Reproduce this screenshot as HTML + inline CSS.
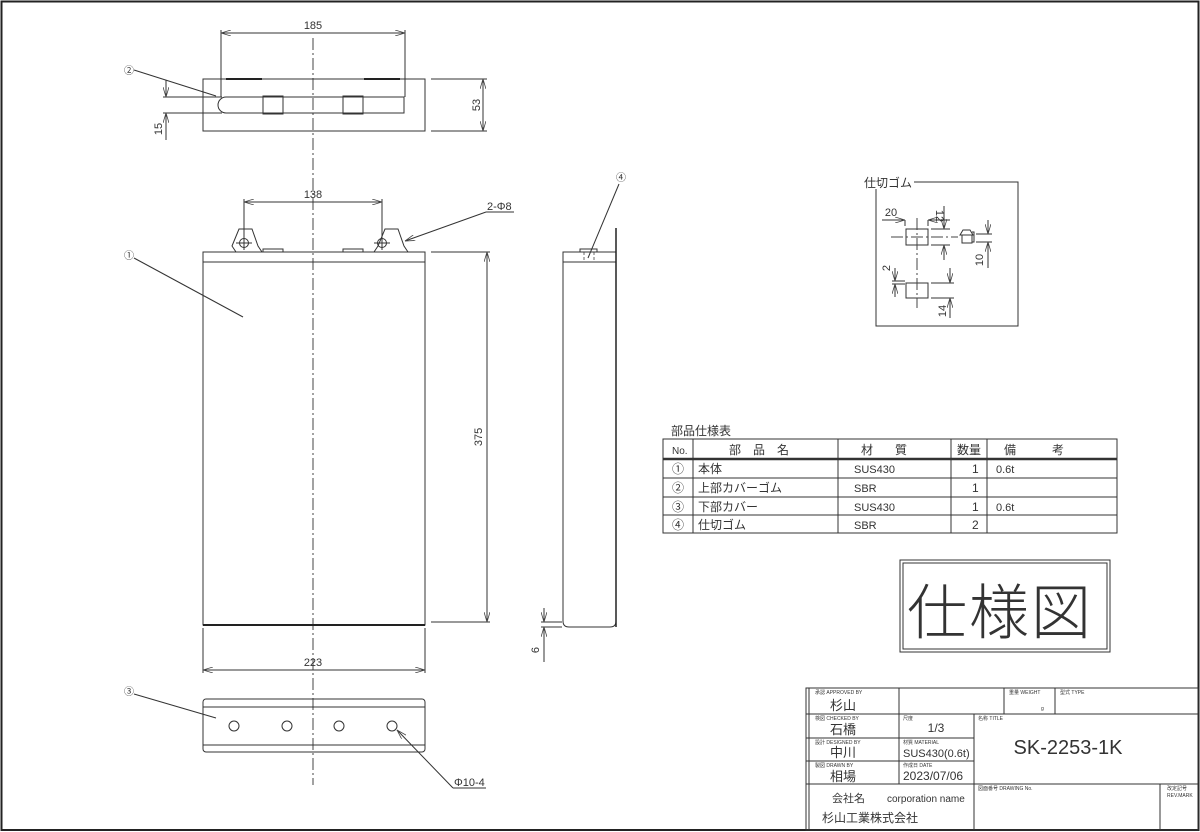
<!DOCTYPE html>
<html><head><meta charset="utf-8"><style>
html,body{margin:0;padding:0;background:#fff}
svg{display:block}
text{font-family:"Liberation Sans","Noto Sans CJK JP",sans-serif;fill:#333}
.l{stroke:#333;stroke-width:1;fill:none}
.t{stroke:#222;stroke-width:1.4;fill:none}
.c{stroke:#444;stroke-width:1;fill:none;stroke-dasharray:12 3 2 3}
.d{stroke:#444;stroke-width:0.8;fill:none;stroke-dasharray:3 2}
.n{font-family:"Liberation Sans Narrow","Liberation Sans",sans-serif}
</style></head><body>
<svg width="1200" height="832" viewBox="0 0 1200 832" xmlns="http://www.w3.org/2000/svg">
<defs>
<marker id="a" viewBox="0 0 10 6" refX="10" refY="3" markerWidth="10" markerHeight="6" orient="auto-start-reverse" markerUnits="userSpaceOnUse"><path d="M0,0 L10,3 L0,6" fill="none" stroke="#444" stroke-width="0.8"/></marker>
</defs>
<rect x="1.5" y="1.5" width="1197" height="828.5" fill="none" stroke="#222" stroke-width="2"/>

<!-- centerline -->
<line class="c" x1="313" y1="38" x2="313" y2="785"/>

<!-- top view -->
<rect class="l" x="203" y="79" width="222" height="52"/>
<line x1="226" y1="79" x2="262" y2="79" stroke="#222" stroke-width="2"/>
<line x1="364" y1="79" x2="400" y2="79" stroke="#222" stroke-width="2"/>
<path class="l" d="M226,97 L404,97 L404,113 L226,113 A8,8 0 0 1 226,97 Z"/>
<rect class="l" x="263" y="96" width="20" height="18"/>
<rect class="l" x="343" y="96" width="20" height="18"/>
<line class="l" x1="221" y1="30" x2="221" y2="97"/>
<line class="l" x1="405" y1="30" x2="405" y2="97"/>
<line class="l" x1="221" y1="33" x2="405" y2="33" marker-start="url(#a)" marker-end="url(#a)"/>
<text class="n" x="313" y="29" font-size="11" text-anchor="middle">185</text>
<line class="l" x1="431" y1="79" x2="487" y2="79"/>
<line class="l" x1="431" y1="131" x2="487" y2="131"/>
<line class="l" x1="483" y1="79" x2="483" y2="131" marker-start="url(#a)" marker-end="url(#a)"/>
<text class="n" x="0" y="0" font-size="11" text-anchor="middle" transform="translate(480,105) rotate(-90)">53</text>
<line class="l" x1="163" y1="97" x2="222" y2="97"/>
<line class="l" x1="163" y1="113" x2="222" y2="113"/>
<line class="l" x1="166" y1="80" x2="166" y2="97" marker-end="url(#a)"/>
<line class="l" x1="166" y1="140" x2="166" y2="113" marker-end="url(#a)"/>
<text class="n" x="0" y="0" font-size="11" text-anchor="middle" transform="translate(162,129) rotate(-90)">15</text>
<text x="129" y="74" font-size="10" text-anchor="middle">②</text>
<line class="l" x1="134" y1="70" x2="216" y2="96" stroke-width="0.8"/>

<!-- front view -->
<path class="l" d="M236,252 L232,246 L239,229 L252,229 L258,246 L262,252"/>
<path class="l" d="M374,252 L378,246 L385,229 L398,229 L404,246 L408,252"/>
<circle class="l" cx="244" cy="243" r="4.5"/><line class="l" x1="236" y1="243" x2="252" y2="243"/><line class="l" x1="244" y1="236" x2="244" y2="250"/>
<circle class="l" cx="382" cy="243" r="4.5"/><line class="l" x1="374" y1="243" x2="390" y2="243"/><line class="l" x1="382" y1="236" x2="382" y2="250"/>
<rect class="l" x="263" y="249" width="20" height="3"/>
<rect class="l" x="343" y="249" width="20" height="3"/>
<rect class="l" x="203" y="252" width="222" height="373"/>
<line class="l" x1="203" y1="262" x2="425" y2="262"/>
<line x1="203" y1="625" x2="425" y2="625" stroke="#222" stroke-width="2"/>
<line class="l" x1="244" y1="199" x2="244" y2="242"/>
<line class="l" x1="382" y1="199" x2="382" y2="242"/>
<line class="l" x1="244" y1="202" x2="382" y2="202" marker-start="url(#a)" marker-end="url(#a)"/>
<text class="n" x="313" y="198" font-size="11" text-anchor="middle">138</text>
<text class="n" x="487" y="210" font-size="11">2-Φ8</text>
<line class="l" x1="486" y1="212" x2="514" y2="212" stroke-width="0.8"/>
<line class="l" x1="486" y1="212" x2="405" y2="241" marker-end="url(#a)" stroke-width="0.8"/>
<line class="l" x1="431" y1="252" x2="490" y2="252"/>
<line class="l" x1="431" y1="622" x2="490" y2="622"/>
<line class="l" x1="487" y1="252" x2="487" y2="622" marker-start="url(#a)" marker-end="url(#a)"/>
<text class="n" x="0" y="0" font-size="11" text-anchor="middle" transform="translate(482,437) rotate(-90)">375</text>
<text x="129" y="259" font-size="10" text-anchor="middle">①</text>
<line class="l" x1="134" y1="258" x2="243" y2="317" stroke-width="0.8"/>
<line class="l" x1="203" y1="628" x2="203" y2="673"/>
<line class="l" x1="425" y1="628" x2="425" y2="673"/>
<line class="l" x1="203" y1="670" x2="425" y2="670" marker-start="url(#a)" marker-end="url(#a)"/>
<text class="n" x="313" y="666" font-size="11" text-anchor="middle">223</text>

<!-- bottom view -->
<rect class="l" x="203" y="699" width="222" height="53" rx="3" stroke-width="1.3"/>
<line class="l" x1="203" y1="707" x2="425" y2="707"/>
<line class="l" x1="203" y1="745" x2="425" y2="745"/>
<circle class="l" cx="234" cy="726" r="5"/>
<circle class="l" cx="287" cy="726" r="5"/>
<circle class="l" cx="339" cy="726" r="5"/>
<circle class="l" cx="392" cy="726" r="5"/>
<text x="129" y="695" font-size="10" text-anchor="middle">③</text>
<line class="l" x1="134" y1="694" x2="216" y2="718" stroke-width="0.8"/>
<text class="n" x="454" y="786" font-size="11">Φ10-4</text>
<line class="l" x1="453" y1="788" x2="486" y2="788" stroke-width="0.8"/>
<line class="l" x1="453" y1="788" x2="397" y2="730" marker-end="url(#a)" stroke-width="0.8"/>

<!-- side view -->
<path class="l" d="M563,252 L563,621 Q563,627 569,627 L610,627 Q616,627 616,621 L616,252 Z"/>
<line class="l" x1="563" y1="262" x2="616" y2="262"/>
<line x1="616" y1="228" x2="616" y2="627" stroke="#222" stroke-width="1.5"/>
<rect class="l" x="580" y="249" width="17" height="3"/>
<line class="d" x1="584" y1="252" x2="584" y2="262"/><line class="d" x1="594" y1="252" x2="594" y2="262"/>
<text x="621" y="181" font-size="10" text-anchor="middle">④</text>
<line class="l" x1="619" y1="184" x2="588" y2="258" stroke-width="0.8"/>
<line class="l" x1="541" y1="622" x2="562" y2="622"/>
<line class="l" x1="541" y1="627" x2="562" y2="627"/>
<line class="l" x1="544" y1="608" x2="544" y2="622" marker-end="url(#a)"/>
<line class="l" x1="544" y1="662" x2="544" y2="627" marker-end="url(#a)"/>
<text class="n" x="0" y="0" font-size="11" text-anchor="middle" transform="translate(539,650) rotate(-90)">6</text>

<!-- partition rubber box -->
<rect class="l" x="876" y="182" width="142" height="144"/>
<rect x="862" y="175" width="68" height="14" fill="#fff"/>
<text x="864" y="187" font-size="12">仕切ゴム</text>
<line class="l" x1="914" y1="182" x2="930" y2="182"/>
<rect class="l" x="906" y="229" width="22" height="16"/>
<rect class="l" x="906" y="283" width="22" height="15"/>
<line class="c" x1="891" y1="237" x2="958" y2="237"/>
<line class="c" x1="917" y1="218" x2="917" y2="308"/>
<line class="l" x1="905" y1="220" x2="905" y2="226"/><line class="l" x1="928" y1="220" x2="928" y2="226"/>
<line class="l" x1="882" y1="220" x2="905" y2="220" marker-end="url(#a)"/>
<line class="l" x1="950" y1="220" x2="928" y2="220" marker-end="url(#a)"/>
<text class="n" x="891" y="216" font-size="11" text-anchor="middle">20</text>
<line class="l" x1="931" y1="229" x2="950" y2="229"/><line class="l" x1="931" y1="245" x2="950" y2="245"/>
<line class="l" x1="944" y1="206" x2="944" y2="229" marker-end="url(#a)"/>
<line class="l" x1="944" y1="260" x2="944" y2="245" marker-end="url(#a)"/>
<text class="n" x="0" y="0" font-size="11" text-anchor="middle" transform="translate(936,216) rotate(90)">12</text>
<path class="l" d="M960,235 L963,230 L970,230 L973,235 Z M972,232 L974,232 L974,242 L972,242 M962,235 L962,243 L972,243 L972,235"/>
<line class="l" x1="976" y1="234" x2="992" y2="234"/><line class="l" x1="976" y1="242" x2="992" y2="242"/>
<line class="l" x1="988" y1="220" x2="988" y2="234" marker-end="url(#a)"/>
<line class="l" x1="988" y1="268" x2="988" y2="242" marker-end="url(#a)"/>
<text class="n" x="0" y="0" font-size="11" text-anchor="middle" transform="translate(983,260) rotate(-90)">10</text>
<line class="l" x1="892" y1="281" x2="905" y2="281"/><line class="l" x1="892" y1="284" x2="905" y2="284"/>
<line class="l" x1="895" y1="268" x2="895" y2="281" marker-end="url(#a)"/>
<line class="l" x1="895" y1="297" x2="895" y2="284" marker-end="url(#a)"/>
<text class="n" x="0" y="0" font-size="11" text-anchor="middle" transform="translate(890,268) rotate(-90)">2</text>
<line class="l" x1="931" y1="283" x2="954" y2="283"/><line class="l" x1="931" y1="298" x2="954" y2="298"/>
<line class="l" x1="950" y1="268" x2="950" y2="283" marker-end="url(#a)"/>
<line class="l" x1="950" y1="318" x2="950" y2="298" marker-end="url(#a)"/>
<text class="n" x="0" y="0" font-size="11" text-anchor="middle" transform="translate(946,311) rotate(-90)">14</text>

<!-- parts table -->
<text x="671" y="435" font-size="12">部品仕様表</text>
<rect class="l" x="663" y="439" width="454" height="94" stroke-width="1.2"/>
<line x1="663" y1="459" x2="1117" y2="459" stroke="#333" stroke-width="2.5"/>
<line class="l" x1="663" y1="478" x2="1117" y2="478"/>
<line class="l" x1="663" y1="497" x2="1117" y2="497"/>
<line class="l" x1="663" y1="515" x2="1117" y2="515"/>
<line class="l" x1="693" y1="439" x2="693" y2="533"/>
<line class="l" x1="838" y1="439" x2="838" y2="533"/>
<line class="l" x1="951" y1="439" x2="951" y2="533"/>
<line class="l" x1="987" y1="439" x2="987" y2="533"/>
<g font-size="12">
<text class="n" x="672" y="454" font-size="10">No.</text>
<text x="765" y="454" text-anchor="middle" letter-spacing="12">部品名</text>
<text x="895" y="454" text-anchor="middle" letter-spacing="22">材質</text>
<text x="969" y="454" text-anchor="middle">数量</text>
<text x="1052" y="454" text-anchor="middle" letter-spacing="36">備考</text>
<text x="678" y="473" text-anchor="middle">①</text><text x="698" y="473">本体</text><text class="n" x="854" y="473" font-size="11">SUS430</text><text x="972" y="473">1</text><text class="n" x="996" y="473" font-size="11">0.6t</text>
<text x="678" y="492" text-anchor="middle">②</text><text x="698" y="492">上部カバーゴム</text><text class="n" x="854" y="492" font-size="11">SBR</text><text x="972" y="492">1</text>
<text x="678" y="511" text-anchor="middle">③</text><text x="698" y="511">下部カバー</text><text class="n" x="854" y="511" font-size="11">SUS430</text><text x="972" y="511">1</text><text class="n" x="996" y="511" font-size="11">0.6t</text>
<text x="678" y="529" text-anchor="middle">④</text><text x="698" y="529">仕切ゴム</text><text class="n" x="854" y="529" font-size="11">SBR</text><text x="972" y="529">2</text>
</g>

<!-- 仕様図 -->
<rect class="l" x="900" y="560" width="210" height="92"/>
<rect class="l" x="903" y="563" width="204" height="86"/>
<text x="1000" y="634" font-size="60" text-anchor="middle" fill="#8a8a8a" letter-spacing="2" font-weight="300">仕様図</text>

<!-- title block -->
<rect class="l" x="806" y="688" width="392" height="142" stroke-width="1.5"/>
<line class="l" x1="806" y1="714" x2="1198" y2="714"/>
<line class="l" x1="806" y1="738" x2="974" y2="738"/>
<line class="l" x1="806" y1="761" x2="974" y2="761"/>
<line class="l" x1="806" y1="784" x2="1198" y2="784"/>
<line class="l" x1="809" y1="688" x2="809" y2="830"/>
<line class="l" x1="899" y1="688" x2="899" y2="784"/>
<line class="l" x1="974" y1="714" x2="974" y2="830"/>
<line class="l" x1="1004" y1="688" x2="1004" y2="714"/>
<line class="l" x1="1055" y1="688" x2="1055" y2="714"/>
<line class="l" x1="1160" y1="784" x2="1160" y2="830"/>
<g font-size="5">
<text x="815" y="694">承認  APPROVED BY</text>
<text x="815" y="720">検図  CHECKED BY</text>
<text x="815" y="744">設計  DESIGNED BY</text>
<text x="815" y="767">製図  DRAWN BY</text>
<text x="903" y="720">尺度</text>
<text x="903" y="744">材質  MATERIAL</text>
<text x="903" y="767">作成日  DATE</text>
<text x="978" y="720">名称  TITLE</text>
<text x="1009" y="694">重量  WEIGHT</text>
<text x="1041" y="710">g</text>
<text x="1060" y="694">型式  TYPE</text>
<text x="978" y="790">図面番号        DRAWING No.</text>
<text x="1167" y="790">改定記号</text>
<text x="1167" y="797">REV.MARK</text>
</g>
<g font-size="13">
<text x="830" y="710">杉山</text>
<text x="830" y="734">石橋</text>
<text x="830" y="757">中川</text>
<text x="830" y="781">相場</text>
</g>
<text class="n" x="936" y="732" font-size="12" text-anchor="middle">1/3</text>
<text class="n" x="903" y="757" font-size="11">SUS430(0.6t)</text>
<text class="n" x="903" y="780" font-size="12">2023/07/06</text>
<text class="n" x="1068" y="754" font-size="20" text-anchor="middle" fill="#555">SK-2253-1K</text>
<text x="832" y="802" font-size="11">会社名</text>
<text x="887" y="802" font-size="10" font-family="Liberation Serif,serif">corporation name</text>
<text x="822" y="822" font-size="12">杉山工業株式会社</text>
</svg>
</body></html>
